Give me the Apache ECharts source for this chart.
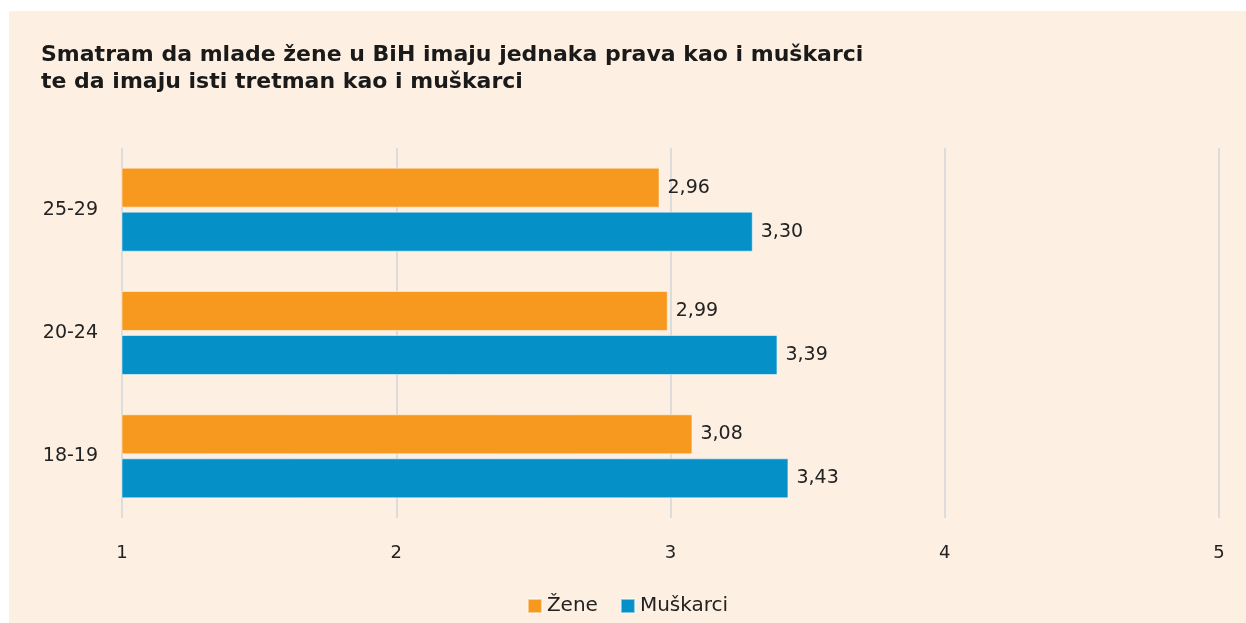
<!DOCTYPE html>
<html>
<head>
<meta charset="utf-8">
<script src="https://cdn.jsdelivr.net/npm/echarts@6/dist/echarts.min.js"></script>
<style>
  html, body { margin: 0; padding: 0; background: #fff; }
  #chart { position: absolute; left: 9px; top: 11px; width: 1237px; height: 612px; }
</style>
</head>
<body>
<div id="chart"></div>
<script>
// kategorije i vrijednosti (odozgo prema dolje)
const categories = ['25-29', '20-24', '18-19'];
const zene = [2.96, 2.99, 3.08];
const muskarci = [3.30, 3.39, 3.43];
const seriesNames = ['Žene', 'Muškarci'];
const xTicks = [1, 2, 3, 4, 5];

const fmt = (v) => v.toFixed(2).replace('.', ',');
const FONT = 'DejaVu Sans';

let chart = echarts.init(document.getElementById('chart'));
chart.setOption({
    backgroundColor: '#FDEFE1',
    color: ['#F8991F', '#0591C8'],
    textStyle: { fontFamily: FONT },
    title: {
        text: 'Smatram da mlade žene u BiH imaju jednaka prava kao i muškarci\nte da imaju isti tretman kao i muškarci',
        left: 27,
        top: 26,
        textStyle: {
            fontFamily: FONT,
            fontWeight: 'bold',
            fontSize: 22,
            lineHeight: 27,
            color: '#1a1a1a'
        }
    },
    legend: {
        bottom: 2,
        left: 'center',
        icon: 'rect',
        itemWidth: 14,
        itemHeight: 14,
        itemGap: 22,
        data: seriesNames,
        textStyle: { fontSize: 20, color: '#222', fontFamily: FONT }
    },
    grid: {
        left: 113,
        right: 27,
        top: 137,
        bottom: 105
    },
    xAxis: {
        type: 'value',
        min: xTicks[0],
        max: xTicks[xTicks.length - 1],
        interval: 1,
        axisLine: { show: false },
        axisTick: { show: false },
        axisLabel: { fontSize: 18, color: '#222', margin: 26 },
        splitLine: { show: true, lineStyle: { color: '#DCDCDC', width: 2 } }
    },
    yAxis: {
        type: 'category',
        inverse: true,
        data: categories,
        axisLine: { show: false },
        axisTick: { show: false },
        axisLabel: { fontSize: 19, color: '#222', margin: 24 }
    },
    series: [
        {
            name: seriesNames[0],
            type: 'bar',
            data: zene,
            barWidth: 40,
            barGap: '10%',
            itemStyle: { borderColor: 'rgba(255,255,255,0.5)', borderWidth: 1 },
            label: {
                show: true,
                position: 'right',
                distance: 8,
                fontSize: 19,
                color: '#222',
                formatter: (p) => fmt(p.value)
            }
        },
        {
            name: seriesNames[1],
            type: 'bar',
            data: muskarci,
            barWidth: 40,
            barGap: '10%',
            itemStyle: { borderColor: 'rgba(255,255,255,0.5)', borderWidth: 1 },
            label: {
                show: true,
                position: 'right',
                distance: 8,
                fontSize: 19,
                color: '#222',
                formatter: (p) => fmt(p.value)
            }
        }
    ]
});
</script>
</body>
</html>
